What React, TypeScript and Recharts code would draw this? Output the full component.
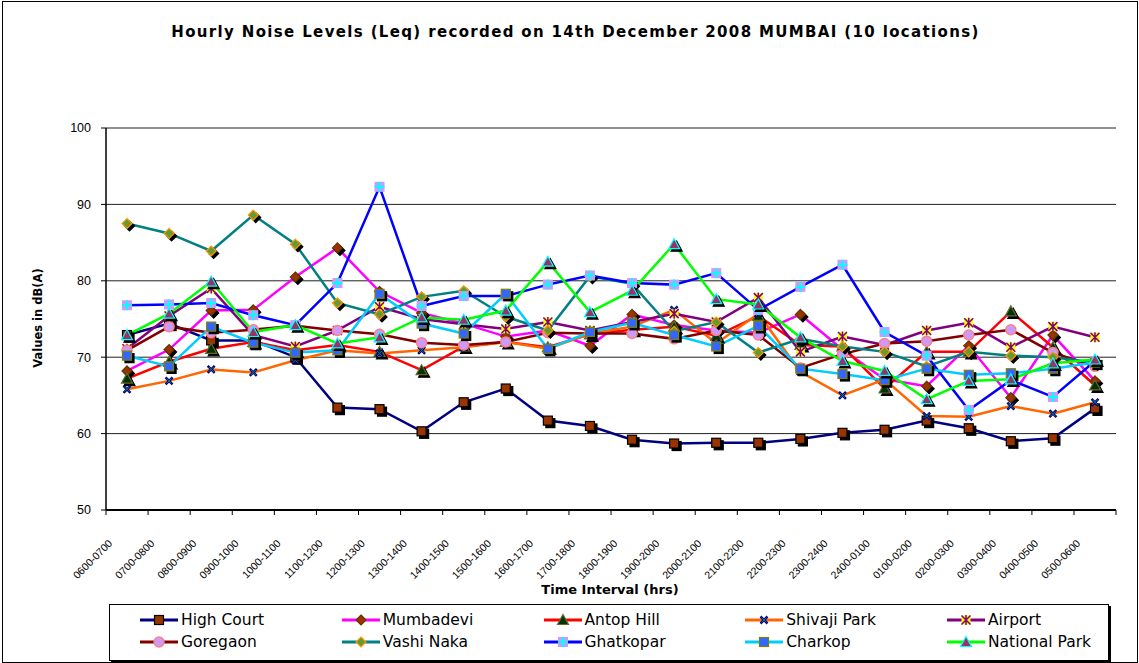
import React from 'react';
import { LineChart, Line, XAxis, YAxis, CartesianGrid } from 'recharts';

const categories = [
  '0600-0700', '0700-0800', '0800-0900', '0900-1000', '1000-1100', '1100-1200',
  '1200-1300', '1300-1400', '1400-1500', '1500-1600', '1600-1700', '1700-1800',
  '1800-1900', '1900-2000', '2000-2100', '2100-2200', '2200-2300', '2300-2400',
  '2400-0100', '0100-0200', '0200-0300', '0300-0400', '0400-0500', '0500-0600',
];

const highCourt = [72.9, 74.4, 72.2, 72.2, 70.0, 63.4, 63.2, 60.3, 64.1, 65.9, 61.7, 61.0, 59.2, 58.7, 58.8, 58.8, 59.3, 60.1, 60.5, 61.7, 60.7, 59.0, 59.4, 63.3];
const mumbadevi = [68.2, 71.0, 76.1, 76.2, 80.5, 84.3, 78.6, 75.8, 74.4, 72.7, 73.5, 71.5, 75.6, 74.2, 73.5, 73.2, 75.6, 71.0, 67.1, 66.2, 71.5, 64.7, 72.9, 66.9];
const antopHill = [67.2, 69.4, 71.1, 72.0, 70.9, 71.6, 70.7, 68.3, 71.4, 72.0, 71.3, 73.0, 73.6, 74.0, 72.8, 75.4, 71.6, 71.4, 65.9, 70.7, 70.7, 76.0, 71.3, 66.3];
const shivajiPark = [65.8, 66.9, 68.4, 68.0, 69.6, 70.9, 70.5, 70.9, 71.3, 72.0, 71.1, 73.1, 74.0, 76.2, 71.8, 75.7, 68.1, 65.0, 67.1, 62.3, 62.2, 63.6, 62.6, 64.1];
const airport = [71.1, 75.4, 79.0, 72.9, 71.4, 73.5, 76.6, 75.0, 74.3, 73.7, 74.6, 73.5, 74.6, 75.7, 74.6, 77.8, 70.7, 72.7, 71.6, 73.5, 74.5, 71.3, 74.0, 72.6];
const goregaon = [70.9, 74.0, 73.2, 73.6, 74.1, 73.5, 73.0, 71.9, 71.6, 72.0, 73.2, 73.1, 73.1, 72.4, 73.5, 72.9, 68.6, 70.4, 71.8, 72.1, 72.9, 73.6, 70.6, 68.8];
const vashiNaka = [87.5, 86.2, 83.9, 88.6, 84.8, 77.1, 75.6, 77.9, 78.7, 75.3, 73.5, 80.6, 79.6, 73.4, 74.6, 70.6, 72.4, 71.4, 70.7, 68.8, 70.7, 70.2, 70.0, 69.3];
const ghatkopar = [76.8, 76.9, 77.1, 75.5, 74.2, 79.7, 92.3, 76.7, 78.0, 78.0, 79.5, 80.7, 79.7, 79.5, 81.0, 76.2, 79.2, 82.1, 73.3, 70.2, 63.1, 67.0, 64.8, 69.5];
const charkop = [70.2, 68.8, 74.0, 71.9, 70.6, 70.9, 78.3, 74.4, 73.1, 78.3, 71.1, 73.3, 74.5, 72.9, 71.4, 74.1, 68.5, 67.8, 67.0, 68.5, 67.7, 67.9, 68.5, 69.3];
const nationalPark = [72.9, 75.7, 79.9, 73.3, 74.2, 71.8, 72.6, 75.2, 74.9, 76.1, 82.5, 75.9, 78.7, 84.8, 77.6, 76.9, 72.6, 69.5, 68.2, 64.5, 66.9, 67.1, 69.2, 69.7];

const yTicks = [50, 60, 70, 80, 90, 100];

type Series = {
  key: string;
  name: string;
  values: number[];
  color: string;
  marker: string;
  fill: string;
  stroke: string;
};

const series: Series[] = [
  { key: 'highCourt', name: 'High Court', values: highCourt, color: '#000080', marker: 'square', fill: '#993300', stroke: '#000000' },
  { key: 'mumbadevi', name: 'Mumbadevi', values: mumbadevi, color: '#FF00FF', marker: 'diamond', fill: '#993300', stroke: '#663300' },
  { key: 'antopHill', name: 'Antop Hill', values: antopHill, color: '#FF0000', marker: 'triangle', fill: '#003300', stroke: '#666633' },
  { key: 'shivajiPark', name: 'Shivaji Park', values: shivajiPark, color: '#FF6600', marker: 'cross', fill: '#008080', stroke: '#000080' },
  { key: 'airport', name: 'Airport', values: airport, color: '#800080', marker: 'star', fill: '#FFFF00', stroke: '#800080' },
  { key: 'goregaon', name: 'Goregaon', values: goregaon, color: '#800000', marker: 'circle', fill: '#CC99FF', stroke: '#FF8080' },
  { key: 'vashiNaka', name: 'Vashi Naka', values: vashiNaka, color: '#008080', marker: 'diamond', fill: '#669933', stroke: '#FF9900' },
  { key: 'ghatkopar', name: 'Ghatkopar', values: ghatkopar, color: '#0000FF', marker: 'plusSquare', fill: '#CC99FF', stroke: '#00FFFF' },
  { key: 'charkop', name: 'Charkop', values: charkop, color: '#00CCFF', marker: 'square', fill: '#3366FF', stroke: '#808000' },
  { key: 'nationalPark', name: 'National Park', values: nationalPark, color: '#00FF00', marker: 'triangle', fill: '#993366', stroke: '#00FFFF' },
];

const data = categories.map((time, i) => {
  const row: Record<string, string | number> = { time };
  series.forEach((s) => {
    row[s.key] = s.values[i];
  });
  return row;
});

// half of one category band: the plot is 1010px wide for 24 categories
const HALF_BAND = 21;

const shape = (m: string, cx: number, cy: number, fill: string, stroke: string) => {
  switch (m) {
    case 'square':
      return <rect x={cx - 4.5} y={cy - 4.5} width={9} height={9} fill={fill} stroke={stroke} strokeWidth={1.2} />;
    case 'diamond':
      return <polygon points={`${cx},${cy - 5} ${cx + 5},${cy} ${cx},${cy + 5} ${cx - 5},${cy}`} fill={fill} stroke={stroke} strokeWidth={1.2} />;
    case 'triangle':
      return <polygon points={`${cx},${cy - 5.5} ${cx + 5.5},${cy + 4.5} ${cx - 5.5},${cy + 4.5}`} fill={fill} stroke={stroke} strokeWidth={1.2} />;
    case 'circle':
      return <circle cx={cx} cy={cy} r={5} fill={fill} stroke={stroke} strokeWidth={1.5} />;
    case 'plusSquare':
      return (
        <g>
          <rect x={cx - 5} y={cy - 5} width={10} height={10} fill={fill} />
          <path d={`M${cx - 5},${cy}H${cx + 5}M${cx},${cy - 5}V${cy + 5}`} stroke={stroke} strokeWidth={2} />
        </g>
      );
    case 'cross':
      return (
        <g>
          <path d={`M${cx - 3.5},${cy - 3.5}L${cx + 3.5},${cy + 3.5}M${cx - 3.5},${cy + 3.5}L${cx + 3.5},${cy - 3.5}`} stroke={stroke} strokeWidth={2.5} />
          <path d={`M${cx - 2.5},${cy - 2.5}L${cx + 2.5},${cy + 2.5}M${cx - 2.5},${cy + 2.5}L${cx + 2.5},${cy - 2.5}`} stroke={fill} strokeWidth={1} />
        </g>
      );
    case 'star':
      return (
        <g>
          <rect x={cx - 4.5} y={cy - 4.5} width={9} height={9} fill={fill} />
          <path d={`M${cx - 4.5},${cy - 4.5}L${cx + 4.5},${cy + 4.5}M${cx - 4.5},${cy + 4.5}L${cx + 4.5},${cy - 4.5}M${cx},${cy - 5}V${cy + 5}`} stroke={stroke} strokeWidth={1.5} />
        </g>
      );
    default:
      return null;
  }
};

const hasShadow = (m: string) => m === 'square' || m === 'diamond' || m === 'triangle';

const makeDot = (s: Series) => (p: any) => {
  if (p.cx == null || p.cy == null) return <g key={`${s.key}-${p.index}`} />;
  return (
    <g key={`${s.key}-${p.index}`}>
      {hasShadow(s.marker) && shape(s.marker, p.cx + 2.5, p.cy + 2.5, '#000', '#000')}
      {shape(s.marker, p.cx, p.cy, s.fill, s.stroke)}
    </g>
  );
};

const XTick = (props: any) => {
  const { x, y, payload, index } = props;
  return (
    <g>
      <line x1={x - HALF_BAND} x2={x - HALF_BAND} y1={y - 5} y2={y} stroke="#000" />
      {index === categories.length - 1 && <line x1={x + HALF_BAND} x2={x + HALF_BAND} y1={y - 5} y2={y} stroke="#000" />}
      <g transform={`translate(${x - 14},${y + 29})`}>
        <text transform="rotate(-45)" textAnchor="end" fontSize={10.5} fontFamily="Liberation Sans, Arial, sans-serif" fill="#000">
          {payload.value}
        </text>
      </g>
    </g>
  );
};

const LegendBox = () => (
  <div
    style={{
      position: 'absolute',
      left: 109,
      top: 604,
      width: 998,
      height: 55,
      border: '1px solid #000',
      boxShadow: '2px 2px 0 #000',
      background: '#fff',
    }}
  >
    {series.map((s, i) => {
      const col = i % 5;
      const row = Math.floor(i / 5);
      return (
        <div
          key={s.key}
          style={{
            position: 'absolute',
            left: 30 + col * 201.75,
            top: 15 + row * 22 - 8,
            height: 16,
            display: 'flex',
            alignItems: 'center',
            whiteSpace: 'nowrap',
          }}
        >
          <svg width={38} height={16}>
            <line x1={0} x2={38} y1={8} y2={8} stroke={s.color} strokeWidth={3} />
            {shape(s.marker, 19, 8, s.fill, s.stroke)}
          </svg>
          <span style={{ marginLeft: 3, fontFamily: 'DejaVu Sans, sans-serif', fontSize: 15.5, color: '#000' }}>{s.name}</span>
        </div>
      );
    })}
  </div>
);

export default function App() {
  return (
    <div style={{ position: 'absolute', left: 0, top: 0, width: 1139, height: 663, background: '#fff', overflow: 'hidden' }}>
      <div style={{ position: 'absolute', left: 2, top: 1, width: 1134, height: 660, border: '1px solid #000' }} />
      <div
        style={{
          position: 'absolute',
          left: 6,
          top: 23,
          width: 1139,
          textAlign: 'center',
          fontFamily: 'DejaVu Sans, sans-serif',
          fontWeight: 'bold',
          fontSize: 15,
          letterSpacing: 1.35,
          color: '#000',
        }}
      >
        Hourly Noise Levels (Leq) recorded on 14th December 2008 MUMBAI (10 locations)
      </div>
      <LineChart
        width={1139}
        height={663}
        data={data}
        margin={{ top: 128, right: 23, bottom: 73, left: 46 }}
        style={{ position: 'absolute', left: 0, top: 0 }}
      >
        <CartesianGrid vertical={false} stroke="#222" />
        <XAxis
          dataKey="time"
          interval={0}
          height={80}
          padding={{ left: HALF_BAND, right: HALF_BAND }}
          tickSize={5}
          tickMargin={0}
          tickLine={false}
          tick={<XTick />}
          axisLine={{ stroke: '#000', strokeWidth: 2 }}
        />
        <YAxis
          domain={[50, 100]}
          ticks={yTicks}
          width={60}
          tickSize={5}
          tickMargin={10}
          axisLine={{ stroke: '#000', strokeWidth: 1.5 }}
          tickLine={{ stroke: '#000' }}
          tick={{ fontSize: 12.5, fill: '#000', fontFamily: 'Liberation Sans, Arial, sans-serif' }}
        />
        <YAxis
          yAxisId="right"
          orientation="right"
          domain={[50, 100]}
          width={0}
          tick={false}
          tickLine={false}
          axisLine={{ stroke: '#808080', strokeWidth: 1.5 }}
        />
        {series.map((s) => (
          <Line
            key={s.key}
            dataKey={s.key}
            name={s.name}
            stroke={s.color}
            strokeWidth={2.5}
            dot={makeDot(s)}
            activeDot={false}
            isAnimationActive={false}
          />
        ))}
      </LineChart>
      <div
        style={{
          position: 'absolute',
          left: 610 - 150,
          width: 300,
          top: 582,
          textAlign: 'center',
          fontFamily: 'DejaVu Sans, sans-serif',
          fontWeight: 'bold',
          fontSize: 13,
          color: '#000',
        }}
      >
        Time Interval (hrs)
      </div>
      <div
        style={{
          position: 'absolute',
          left: 38 - 100,
          top: 318 - 9,
          width: 200,
          height: 18,
          lineHeight: '18px',
          textAlign: 'center',
          transform: 'rotate(-90deg)',
          fontFamily: 'DejaVu Sans, sans-serif',
          fontWeight: 'bold',
          fontSize: 11.5,
          color: '#000',
        }}
      >
        Values in dB(A)
      </div>
      <LegendBox />
    </div>
  );
}
